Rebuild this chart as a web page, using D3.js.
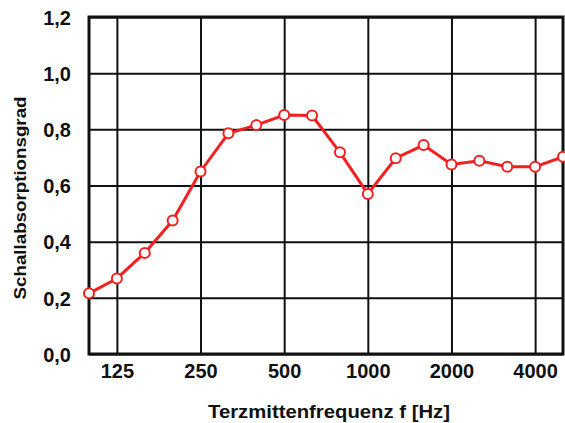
<!DOCTYPE html>
<html>
<head>
<meta charset="utf-8">
<script src="https://cdn.jsdelivr.net/npm/d3@7"></script>
<style>
  body { margin: 0; background: #fff; }
  text { font-family: "Liberation Sans", Arial, sans-serif; font-weight: bold; fill: #111; }
</style>
</head>
<body>
<svg width="565" height="423"></svg>
<script>
// third-octave band centre frequencies
const bands = [100, 125, 160, 200, 250, 315, 400, 500, 630, 800, 1000, 1250, 1600, 2000, 2500, 3150, 4000, 5000];
const alpha = [0.216, 0.269, 0.36, 0.475, 0.65, 0.786, 0.815, 0.851, 0.849, 0.718, 0.57, 0.697, 0.744, 0.675, 0.688, 0.667, 0.667, 0.702];
const xTicks = [125, 250, 500, 1000, 2000, 4000];
const yTicks = [0, 0.2, 0.4, 0.6, 0.8, 1.0, 1.2];

const svg = d3.select("svg");
const plotL = 89, plotR = 563, plotT = 17, plotB = 354;

// x runs over band index, so octaves sit evenly apart
const x = d3.scaleLinear().domain([0, bands.length - 1]).range([plotL, plotR]);
const y = d3.scaleLinear().domain([0, 1.2]).range([plotB, plotT]);
const fmt = d => d3.format(".1f")(d).replace(".", ",");

/* grid */
svg.append("g")
  .attr("transform", `translate(0,${plotB})`)
  .call(d3.axisBottom(x)
    .tickValues(xTicks.map(f => bands.indexOf(f)))
    .tickSize(-(plotB - plotT))
    .tickFormat(i => bands[i]))
  .call(g => g.select(".domain").remove())
  .call(g => g.selectAll("line").attr("stroke", "#111").attr("stroke-width", 2))
  .call(g => g.selectAll("text").attr("font-size", 20).attr("dy", "1.05em"));

svg.append("g")
  .attr("transform", `translate(${plotL},0)`)
  .call(d3.axisLeft(y)
    .tickValues(yTicks)
    .tickSize(-(plotR - plotL))
    .tickPadding(18)
    .tickFormat(fmt))
  .call(g => g.select(".domain").remove())
  .call(g => g.selectAll("line").attr("stroke", "#111").attr("stroke-width", 2))
  .call(g => g.selectAll("text").attr("font-size", 20).attr("dy", "0.36em"));

// frame
svg.append("rect")
  .attr("x", plotL).attr("y", plotT)
  .attr("width", plotR - plotL).attr("height", plotB - plotT)
  .attr("fill", "none").attr("stroke", "#111").attr("stroke-width", 3);

/* curve */
const line = d3.line()
  .x((d, i) => x(i))
  .y(d => y(d));

svg.append("path")
  .datum(alpha)
  .attr("d", line)
  .attr("fill", "none")
  .attr("stroke", "#f22020")
  .attr("stroke-width", 3);

svg.selectAll("circle")
  .data(alpha)
  .enter()
  .append("circle")
    .attr("cx", (d, i) => x(i))
    .attr("cy", d => y(d))
    .attr("r", 5)
    .attr("fill", "#fff")
    .attr("stroke", "#f22020")
    .attr("stroke-width", 2);

/* axis titles */
svg.append("text")
  .attr("x", 329)
  .attr("y", 418)
  .attr("text-anchor", "middle")
  .attr("font-size", 18)
  .attr("textLength", 242)
  .attr("lengthAdjust", "spacingAndGlyphs")
  .text("Terzmittenfrequenz f [Hz]");

svg.append("text")
  .attr("transform", "translate(26,198) rotate(-90)")
  .attr("text-anchor", "middle")
  .attr("font-size", 17)
  .attr("textLength", 203)
  .attr("lengthAdjust", "spacingAndGlyphs")
  .text("Schallabsorptionsgrad");
</script>
</body>
</html>
